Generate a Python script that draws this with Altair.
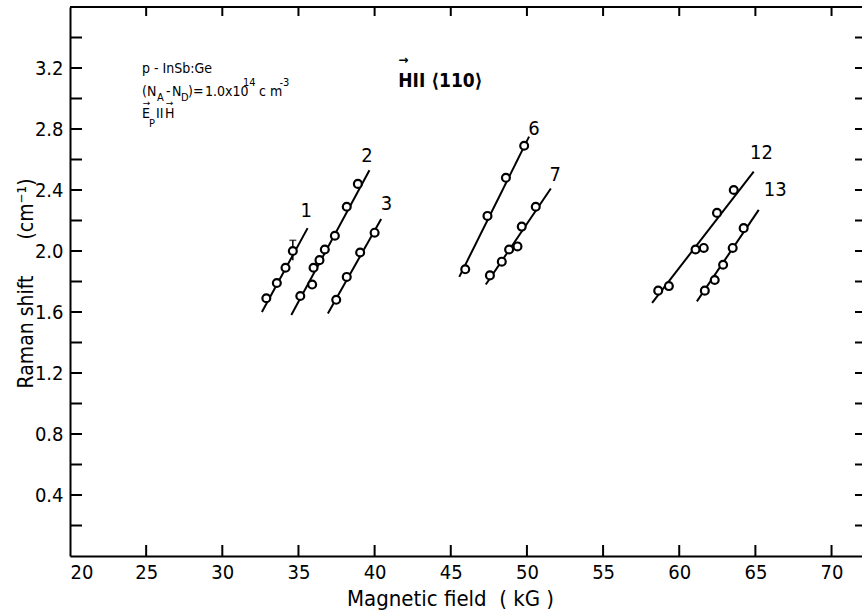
import altair as alt
import pandas as pd

FONT = "Liberation Sans Narrow, DejaVu Sans Condensed, sans-serif"

# ---- data ----
s1_x = [32.89, 33.58, 34.15, 34.63]
s1_y = [1.69, 1.79, 1.89, 2.00]
s2_x = [35.12, 35.90, 35.99, 36.38, 36.73, 37.39, 38.17, 38.90]
s2_y = [1.705, 1.78, 1.89, 1.94, 2.01, 2.10, 2.29, 2.44]
s3_x = [37.48, 38.17, 39.05, 40.00]
s3_y = [1.68, 1.83, 1.99, 2.12]
s6_x = [45.95, 47.41, 48.62, 49.82]
s6_y = [1.88, 2.23, 2.48, 2.69]
s7_x = [47.57, 48.35, 48.83, 49.38, 49.66, 50.58]
s7_y = [1.84, 1.93, 2.01, 2.03, 2.16, 2.29]
s12_x = [58.62, 59.32, 61.07, 61.61, 62.48, 63.58]
s12_y = [1.74, 1.77, 2.01, 2.02, 2.25, 2.40]
s13_x = [61.68, 62.33, 62.88, 63.51, 64.23]
s13_y = [1.74, 1.81, 1.91, 2.02, 2.15]

# fitted straight lines (start / end)
fit_series = ["1", "2", "3", "6", "7", "12", "13"]
fit_x1 = [32.60, 34.53, 36.93, 45.56, 47.30, 58.22, 61.16]
fit_y1 = [1.60, 1.58, 1.59, 1.83, 1.78, 1.66, 1.67]
fit_x2 = [35.60, 39.66, 40.43, 50.14, 51.57, 64.89, 65.22]
fit_y2 = [2.15, 2.53, 2.21, 2.75, 2.41, 2.52, 2.27]

# series labels
lab_text = ["1", "2", "3", "6", "7", "12", "13"]
lab_x = [35.51, 39.50, 40.78, 50.47, 51.85, 65.40, 66.30]
lab_y = [2.26, 2.62, 2.31, 2.80, 2.50, 2.64, 2.40]

# error bar on series 1
err_x = [34.63]
err_lo = [1.94]
err_hi = [2.07]

# axis ticks
x_tick_vals = [20, 25, 30, 35, 40, 45, 50, 55, 60, 65, 70]
x_minor = [25, 30, 35, 40, 45, 50, 55, 60, 65, 70]
y_tick_vals = [0.4, 0.8, 1.2, 1.6, 2.0, 2.4, 2.8, 3.2]
y_minor = [0.2, 0.4, 0.6, 0.8, 1.0, 1.2, 1.4, 1.6, 1.8, 2.0, 2.2, 2.4, 2.6, 2.8, 3.0, 3.2, 3.4]

# annotation block pieces (left aligned; positions in kG / cm^-1)
ann_text = ["p - InSb:Ge",
            "(N", "A", "-", "N", "D", ")", "=", "1.0x10", "14", "c m", "-3",
            "E", "P", "II", "H"]
ann_x = [24.727,
         24.727, 25.712, 26.303, 26.697, 27.288, 27.748, 28.076, 28.864, 31.360, 32.410, 33.750,
         24.727, 25.187, 25.647, 26.238]
ann_y = [3.167,
         3.016, 2.984, 3.016, 3.016, 2.984, 3.016, 3.016, 3.016, 3.080, 3.016, 3.080,
         2.872, 2.813, 2.872, 2.872]
ann_size = [14,
            14, 11, 14, 14, 11, 14, 14, 14, 11, 14, 11,
            14, 11, 14, 14]
# small vector arrows over E and H
vec_x = [25.023, 26.533]
vec_y = [2.950, 2.950]

main_text = ["HII \u27e8110\u27e9"]
main_x = [41.55]
main_y = [3.076]
arrow_x = [41.55]
arrow_y = [3.225]

W, H = 792, 549
xs = alt.Scale(domain=[20, 72], nice=False, zero=False)
ys = alt.Scale(domain=[0, 3.6], nice=False, zero=False)

pts = pd.DataFrame({
    "x": s1_x + s2_x + s3_x + s6_x + s7_x + s12_x + s13_x,
    "y": s1_y + s2_y + s3_y + s6_y + s7_y + s12_y + s13_y,
})
fits = pd.DataFrame({"s": fit_series, "x1": fit_x1, "y1": fit_y1, "x2": fit_x2, "y2": fit_y2})
labs = pd.DataFrame({"t": lab_text, "x": lab_x, "y": lab_y})
errs = pd.DataFrame({"x": err_x, "lo": err_lo, "hi": err_hi})
ann = pd.DataFrame({"t": ann_text, "x": ann_x, "y": ann_y, "s": ann_size})
vecs = pd.DataFrame({"t": ["\u2192", "\u2192"], "x": vec_x, "y": vec_y})

x_axis = alt.Axis(values=x_tick_vals, ticks=False, grid=False, domainColor="black", domainWidth=2,
                  labelFont=FONT, labelFontSize=20, labelColor="black", labelPadding=6,
                  title="Magnetic field\u00a0\u00a0(\u00a0kG\u00a0)", titleFont=FONT, titleFontSize=22,
                  titleFontWeight="normal", titleColor="black", titleX=380, titleY=42,
                  titleBaseline="middle", titleAnchor="middle")
y_axis = alt.Axis(values=y_tick_vals, ticks=False, grid=False, domainColor="black", domainWidth=2,
                  labelFont=FONT, labelFontSize=20, labelColor="black", labelPadding=7,
                  format=".1f",
                  title="Raman shift" + "\u00a0" * 6 + "(cm\u207b\u00b9)", titleFont=FONT,
                  titleFontSize=21, titleFontWeight="normal", titleColor="black",
                  titleX=-44, titleY=276, titleAngle=270, titleBaseline="middle",
                  titleAlign="center")

base_fit = alt.Chart(fits).mark_rule(color="black", strokeWidth=2).encode(
    x=alt.X("x1:Q", scale=xs, axis=x_axis),
    y=alt.Y("y1:Q", scale=ys, axis=y_axis),
    x2="x2:Q", y2="y2:Q",
)

err_rule = alt.Chart(errs).mark_rule(color="black", strokeWidth=1.5).encode(
    x=alt.X("x:Q", scale=xs), y=alt.Y("lo:Q", scale=ys), y2="hi:Q")
err_cap = alt.Chart(errs).mark_tick(color="black", thickness=1.5, size=7, orient="horizontal").encode(
    x=alt.X("x:Q", scale=xs), y=alt.Y("hi:Q", scale=ys))

circles = alt.Chart(pts).mark_point(shape="circle", filled=True, fill="white", stroke="black",
                                    strokeWidth=2.2, size=62, opacity=1).encode(
    x=alt.X("x:Q", scale=xs), y=alt.Y("y:Q", scale=ys))

labels = alt.Chart(labs).mark_text(font=FONT, fontSize=20, color="black", align="center",
                                   baseline="middle").encode(
    x=alt.X("x:Q", scale=xs), y=alt.Y("y:Q", scale=ys), text="t:N")

annot = alt.Chart(ann).mark_text(font=FONT, color="black", align="left", baseline="alphabetic").encode(
    x=alt.X("x:Q", scale=xs), y=alt.Y("y:Q", scale=ys), text="t:N",
    size=alt.Size("s:Q", scale=None, legend=None))
vec_arrows = alt.Chart(vecs).mark_text(font="DejaVu Sans", fontSize=9, color="black", align="center",
                                       baseline="alphabetic").encode(
    x=alt.X("x:Q", scale=xs), y=alt.Y("y:Q", scale=ys), text="t:N")

main_df = pd.DataFrame({"t": main_text, "x": main_x, "y": main_y})
main_lbl = alt.Chart(main_df).mark_text(font=FONT, fontSize=19, fontWeight="bold", color="black",
                                        align="left", baseline="alphabetic").encode(
    x=alt.X("x:Q", scale=xs), y=alt.Y("y:Q", scale=ys), text="t:N")
arr_df = pd.DataFrame({"t": ["\u2192"], "x": arrow_x, "y": arrow_y})
main_arrow = alt.Chart(arr_df).mark_text(font="DejaVu Sans", fontSize=12, fontWeight="bold",
                                         color="black", align="left", baseline="alphabetic").encode(
    x=alt.X("x:Q", scale=xs), y=alt.Y("y:Q", scale=ys), text="t:N")

# inward ticks
ytk = pd.DataFrame({"v": y_minor})
xtk = pd.DataFrame({"v": x_minor})
left_ticks = alt.Chart(ytk).mark_rule(color="black", strokeWidth=2).encode(
    y=alt.Y("v:Q", scale=ys), x=alt.value(0), x2=alt.value(12))
right_ticks = alt.Chart(ytk).mark_rule(color="black", strokeWidth=2).encode(
    y=alt.Y("v:Q", scale=ys), x=alt.value(W - 7), x2=alt.value(W))
bottom_ticks = alt.Chart(xtk).mark_rule(color="black", strokeWidth=2).encode(
    x=alt.X("v:Q", scale=xs), y=alt.value(H), y2=alt.value(H - 11))
top_ticks = alt.Chart(xtk).mark_rule(color="black", strokeWidth=2).encode(
    x=alt.X("v:Q", scale=xs), y=alt.value(0), y2=alt.value(9))
top_border = alt.Chart(pd.DataFrame({"a": [0]})).mark_rule(color="black", strokeWidth=2).encode(
    x=alt.value(0), x2=alt.value(W), y=alt.value(0))

chart = alt.layer(
    base_fit, err_rule, err_cap, circles, labels, annot, vec_arrows, main_lbl, main_arrow,
    left_ticks, right_ticks, bottom_ticks, top_ticks, top_border,
).properties(
    width=W, height=H,
    autosize=alt.AutoSizeParams(type="none"),
    padding={"left": 70, "top": 7, "right": 0, "bottom": 58},
    background="white",
).configure_view(stroke=None)

chart.save("out.html", embed_options={"renderer": "svg", "actions": False})
